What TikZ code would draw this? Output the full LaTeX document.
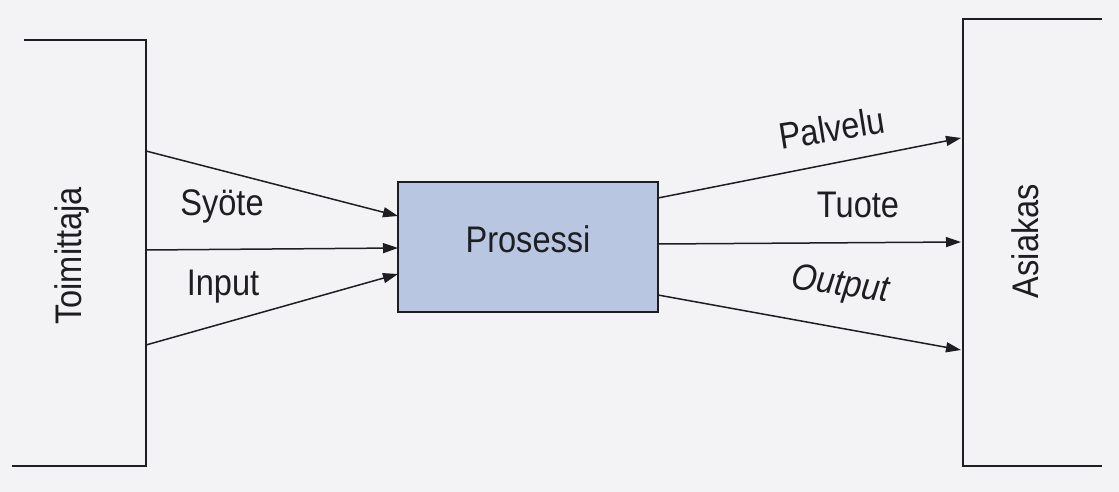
\documentclass[tikz,border=0pt]{standalone}
\usepackage{fontspec}
\setmainfont{Liberation Sans}[FakeStretch=0.88]
\usetikzlibrary{arrows.meta}
\definecolor{paper}{RGB}{243,243,245}
\definecolor{procblue}{RGB}{184,198,226}
\definecolor{ink}{RGB}{30,30,34}
\tikzset{
  lbl/.style={font=\fontsize{37}{40}\selectfont, text=ink, inner sep=0pt},
  conn/.style={draw=ink, line width=1.5pt, -{Triangle[length=15pt,width=10pt]}},
  edge/.style={draw=ink, line width=1.6pt},
  procbox/.style={draw=ink, line width=1.6pt, fill=procblue, minimum width=260pt, minimum height=130pt, inner sep=0pt}
}
\begin{document}
\begin{tikzpicture}[x=1pt,y=-1pt]
\useasboundingbox[fill=paper] (0,0) rectangle (1119,492);
% supplier box (open on the left)
\draw[edge] (24,40) -- (146,40) -- (146,466) -- (12,466);
\node[lbl, rotate=90] (toim) at (72,256) {Toimittaja};
% customer box (open on the right)
\draw[edge] (1102,19) -- (963,19) -- (963,466) -- (1102,466);
\node[lbl, rotate=90] (asiakas) at (1025,241) {Asiakas};
% process
\node[procbox] (proc) at (528,247) {};
\node[lbl, anchor=base] (proclbl) at (528,252) {Prosessi};
% connector end points
\coordinate (s1) at (146,151);
\coordinate (s2) at (146,250);
\coordinate (s3) at (146,345);
\coordinate (p1) at (398,216);
\coordinate (p2) at (398,248);
\coordinate (p3) at (398,274);
\coordinate (q1) at (658,198);
\coordinate (q2) at (658,244);
\coordinate (q3) at (658,295);
\coordinate (a1) at (961,138);
\coordinate (a2) at (961,242);
\coordinate (a3) at (961,350);
\draw[conn] (s1) -- (p1);
\draw[conn] (s2) -- (p2);
\draw[conn] (s3) -- (p3);
\draw[conn] (q1) -- (a1);
\draw[conn] (q2) -- (a2);
\draw[conn] (q3) -- (a3);
% labels
\node[lbl, anchor=base] (syote) at (222,215) {Syöte};
\node[lbl, anchor=base] (input) at (223,295) {Input};
\node[lbl, rotate=9] (palvelu) at (832,128) {Palvelu};
\node[lbl, anchor=base] (tuote) at (858,217) {Tuote};
\node[lbl, rotate=-8, font=\fontsize{37}{40}\selectfont\itshape] (output) at (840,286) {Output};
\end{tikzpicture}
\end{document}
